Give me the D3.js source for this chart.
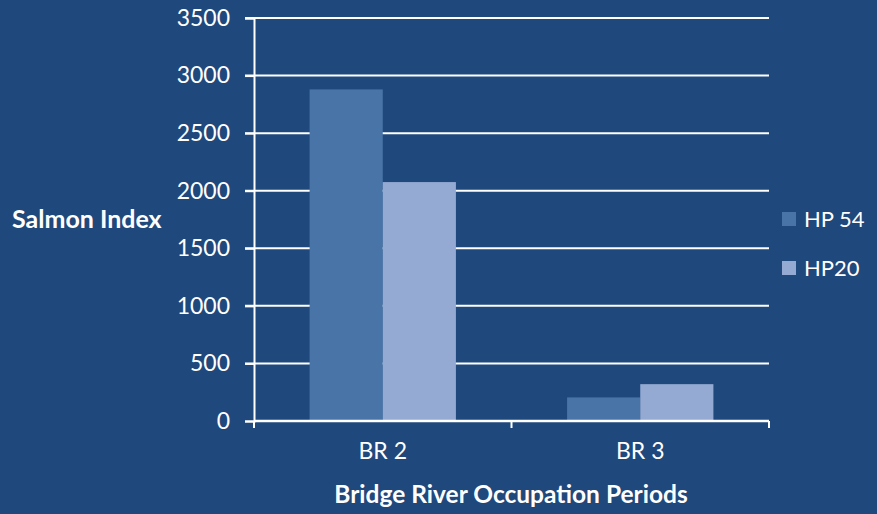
<!DOCTYPE html>
<html>
<head>
<meta charset="utf-8">
<script src="https://cdn.jsdelivr.net/npm/d3@7"></script>
<style>
  body { margin: 0; background: #1F487C; }
  svg { display: block; }
  svg text { font-family: Lato, "Open Sans", sans-serif; }
</style>
</head>
<body>
<svg width="877" height="514"></svg>
<script>
var categories = ['BR 2', 'BR 3'];
var seriesNames = ['HP 54', 'HP20'];
var hp54 = [2880, 205];
var hp20 = [2075, 320];
var yTicks = [0, 500, 1000, 1500, 2000, 2500, 3000, 3500];
var colors = ['#4874A8', '#95AAD3'];

var svg = d3.select('svg');

var xScale = d3.scaleBand()
    .domain(categories).range([254, 769]);

var sub = d3.scaleBand()
    .domain(seriesNames)
    .range([0, xScale.bandwidth()])
    .paddingOuter(0.76);

var yScale = d3.scaleLinear()
    .domain([0, 3500]).range([421, 18]);

// gridlines
svg.append('g')
    .selectAll('line')
    .data(yTicks.slice(1))
    .enter().append('line')
    .attr('x1', 245).attr('x2', 769)
    .attr('y1', function(d){ return yScale(d); })
    .attr('y2', function(d){ return yScale(d); })
    .attr('stroke', '#fff').attr('stroke-width', 2);

// bars
var rows = categories.map(function(c, i){ return [hp54[i], hp20[i]]; });
var group = svg.selectAll('g.cat')
    .data(rows)
    .enter().append('g')
    .attr('class', 'cat')
    .attr('transform', function(d, i){ return 'translate(' + xScale(categories[i]) + ',0)'; });

group.selectAll('rect')
    .data(function(d){ return d; })
    .enter().append('rect')
    .attr('x', function(d, j){ return sub(seriesNames[j]); })
    .attr('width', sub.bandwidth())
    .attr('y', function(d){ return yScale(d); })
    .attr('height', function(d){ return yScale(0) - yScale(d); })
    .attr('fill', function(d, j){ return colors[j]; });

// y axis
var yAxis = svg.append('g')
    .attr('transform', 'translate(254,0)')
    .call(d3.axisLeft(yScale).tickValues(yTicks).tickFormat(d3.format('d'))
        .tickSize(9).tickPadding(15));
yAxis.selectAll('line, path').attr('stroke', '#fff').attr('stroke-width', 2);
yAxis.selectAll('text').style('font-size', '23px').attr('fill', '#fff');

// x axis
var xAxis = svg.append('g')
    .attr('transform', 'translate(0,421)')
    .call(d3.axisBottom(xScale).tickSize(0).tickPadding(22));
xAxis.select('path').attr('stroke', '#fff').attr('stroke-width', 2.5)
    .attr('d', 'M254,0H769');
xAxis.selectAll('text').style('font-size', '23px').attr('fill', '#fff');
xAxis.selectAll('.sep')
    .data([254, 511.5, 769])
    .enter().append('line')
    .attr('x1', function(d){ return d; }).attr('x2', function(d){ return d; })
    .attr('y1', 0).attr('y2', 7)
    .attr('stroke', '#fff').attr('stroke-width', 2);

// axis titles
svg.append('text')
    .attr('x', 12).attr('y', 228)
    .attr('fill', '#fff')
    .style('font-size', '25px').style('font-weight', 'bold')
    .text('Salmon Index');

svg.append('text')
    .attr('x', 511).attr('y', 503)
    .attr('text-anchor', 'middle')
    .attr('fill', '#fff')
    .style('font-size', '24.5px').style('font-weight', 'bold')
    .text('Bridge River Occupation Periods');

// legend
var legend = svg.selectAll('g.legend')
    .data(seriesNames)
    .enter().append('g')
    .attr('class', 'legend')
    .attr('transform', function(d, i){ return 'translate(782,' + (212 + i * 49) + ')'; });

legend.append('rect')
    .attr('width', 14).attr('height', 14)
    .attr('fill', function(d, i){ return colors[i]; });

legend.append('text')
    .attr('x', 22).attr('y', 15)
    .attr('fill', '#fff')
    .style('font-size', '22px')
    .text(function(d){ return d; });
</script>
</body>
</html>
